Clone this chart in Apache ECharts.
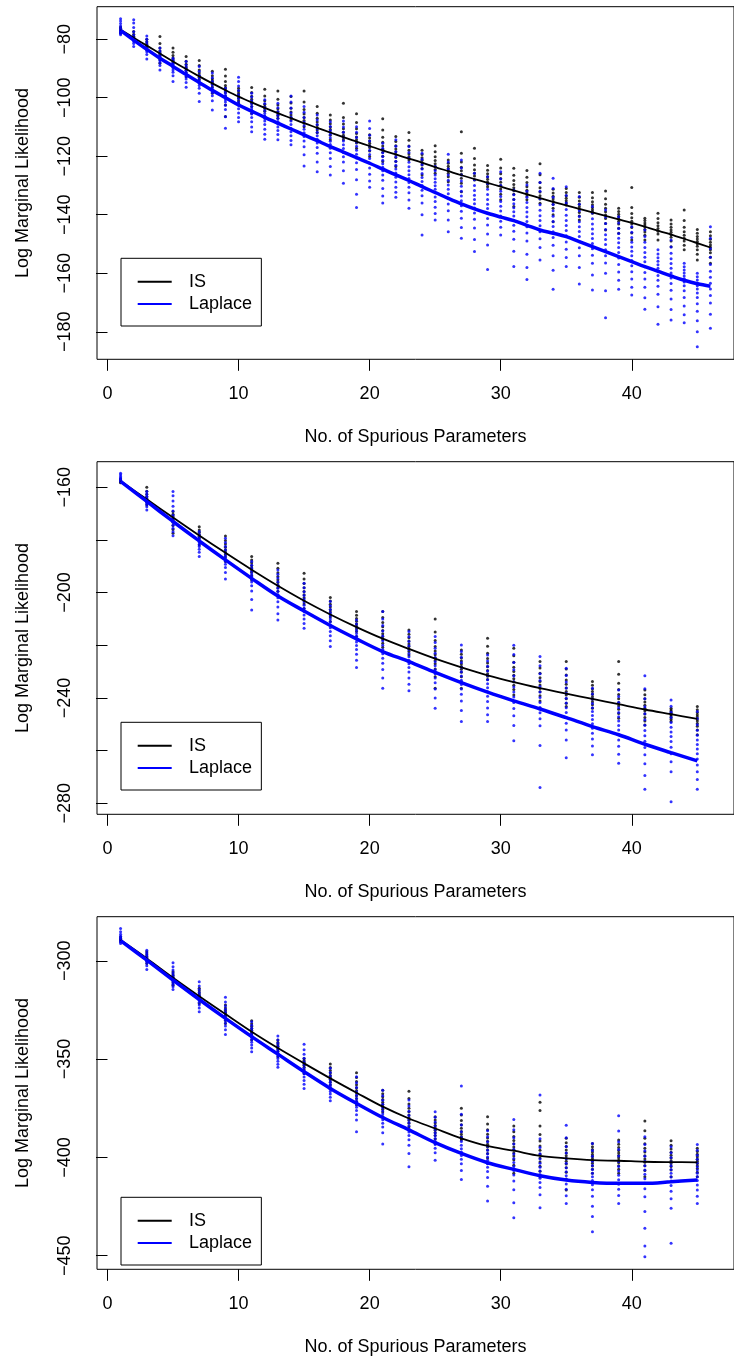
<!DOCTYPE html>
<html>
<head>
<meta charset="utf-8">
<script src="https://cdn.jsdelivr.net/npm/echarts@6/dist/echarts.min.js"></script>
<style>
  html, body { margin: 0; padding: 0; background: #fff; }
  #chart { width: 734px; height: 1361px; }
</style>
</head>
<body>
<div id="chart"></div>
<script>
// x positions
var p1X = [1,2,3,4,5,6,7,8,9,10,11,12,13,14,15,16,17,18,19,20,21,22,23,24,25,26,27,28,29,30,31,32,33,34,35,36,37,38,39,40,41,42,43,44,45,46];
var p23X = [1,3,5,7,9,11,13,15,17,19,21,23,25,27,29,31,33,35,37,39,41,43,45];

// tick labels
var xTicks = [0,10,20,30,40];
var p1Ticks = [-180,-160,-140,-120,-100,-80];
var p2Ticks = [-280,-260,-240,-220,-200,-180,-160];
var p2Labels = [-280,-240,-200,-160];
var p3Ticks = [-450,-400,-350,-300];

// panel 1 : smoothed curves
var p1ISLine = [-76.8,-79.5,-82.2,-84.9,-87.6,-90.2,-92.7,-95.1,-97.4,-99.6,-101.6,-103.5,-105.3,-107.0,-108.7,-110.3,-111.9,-113.5,-115.0,-116.5,-118.0,-119.4,-120.8,-122.2,-123.7,-125.1,-126.5,-127.8,-129.1,-130.4,-131.7,-133.0,-134.3,-135.6,-136.8,-138.0,-139.2,-140.4,-141.6,-142.8,-144.1,-145.4,-146.8,-148.2,-149.7,-151.2];
var p1LapLine = [-77.0,-80.3,-83.5,-86.5,-89.3,-92.1,-94.8,-97.5,-100.0,-102.5,-104.6,-106.7,-108.7,-110.7,-112.7,-114.7,-116.7,-118.6,-120.5,-122.4,-124.4,-126.4,-128.3,-130.4,-132.4,-134.4,-136.3,-138.0,-139.5,-140.8,-142.0,-143.6,-145.2,-146.3,-147.5,-149.2,-150.9,-152.6,-154.3,-156.0,-157.7,-159.3,-160.9,-162.4,-163.6,-164.4];

// panel 1 : replicate estimates per x
var p1ISPts = [
  [-75.8,-76.3,-76.8,-77.2,-77.6,-78.0],
  [-77.4,-78.3,-79.0,-79.4,-79.8,-80.2],
  [-80.0,-80.9,-81.6,-82.1,-82.6,-83.0,-83.6],
  [-79.1,-81.5,-83.0,-84.0,-84.6,-85.2,-86.0,-87.0,-88.2],
  [-83.0,-84.5,-85.6,-86.4,-87.0,-87.6,-88.2,-89.3],
  [-85.9,-87.5,-88.6,-89.4,-90.0,-90.6,-91.5,-92.8],
  [-87.3,-89.0,-90.5,-91.6,-92.4,-93.0,-93.8,-95.0],
  [-91.0,-92.5,-93.5,-94.2,-94.8,-95.4,-96.3,-98.5],
  [-90.3,-92.6,-94.5,-95.8,-96.6,-97.4,-98.2,-99.5,-102.5,-106.4],
  [-96.8,-97.6,-98.4,-99.0,-99.6,-100.2,-101.0,-101.9],
  [-96.5,-98.2,-99.5,-100.5,-101.3,-102.0,-103.0,-105.3],
  [-97.1,-99.4,-101.0,-102.2,-103.0,-103.7,-104.6,-106.4],
  [-97.7,-100.5,-102.5,-103.8,-104.8,-105.5,-106.2,-107.0],
  [-99.6,-101.8,-103.6,-104.9,-105.9,-106.8,-107.6],
  [-97.7,-101.5,-104.0,-105.6,-106.8,-107.8,-108.7,-109.9],
  [-103.0,-105.3,-107.0,-108.3,-109.3,-110.2,-111.0,-112.0],
  [-105.9,-107.6,-108.9,-110.0,-110.9,-111.8,-112.8,-114.4],
  [-101.9,-106.8,-109.0,-110.6,-111.8,-112.8,-113.6,-114.4],
  [-105.5,-108.5,-110.6,-112.2,-113.4,-114.4,-115.5,-117.3],
  [-112.7,-113.8,-114.8,-115.6,-116.3,-117.0,-118.2,-120.1],
  [-107.2,-111.0,-113.5,-115.2,-116.5,-117.6,-118.6,-120.0,-121.8],
  [-113.3,-115.0,-116.4,-117.5,-118.5,-119.4,-120.4,-121.8,-123.5],
  [-111.9,-114.5,-116.5,-118.0,-119.2,-120.2,-121.3],
  [-118.0,-119.4,-120.5,-121.4,-122.2,-123.0,-124.2,-126.4],
  [-116.4,-118.5,-120.2,-121.5,-122.6,-123.5,-124.5,-125.8],
  [-121.3,-122.4,-123.4,-124.2,-125.0,-125.8,-127.0,-128.7],
  [-111.6,-119.0,-122.0,-123.8,-125.0,-126.2,-127.5,-129.2,-132.1],
  [-117.3,-120.8,-123.0,-124.6,-125.8,-126.8,-128.1],
  [-123.2,-124.8,-126.0,-127.0,-127.9,-128.8,-129.6,-130.4],
  [-121.0,-124.0,-126.0,-127.6,-128.9,-130.0,-131.2,-133.0,-134.9],
  [-124.1,-126.5,-128.3,-129.7,-130.8,-131.8,-133.0,-134.8,-137.2],
  [-124.9,-127.2,-129.0,-130.4,-131.6,-132.6,-133.6,-134.9],
  [-122.6,-126.3,-129.0,-130.8,-132.2,-133.5,-134.6,-136.1],
  [-131.3,-132.6,-133.7,-134.6,-135.5,-136.4,-137.8,-140.0,-142.4],
  [-131.0,-132.4,-133.5,-134.4,-135.2,-136.0,-136.7],
  [-132.4,-134.0,-135.3,-136.4,-137.3,-138.1,-139.2,-140.4,-141.8],
  [-132.4,-134.2,-135.6,-136.6,-137.5,-138.3,-139.0,-139.5],
  [-131.9,-134.5,-136.4,-137.8,-139.0,-140.1,-141.3,-143.0,-145.2],
  [-137.8,-138.9,-139.8,-140.6,-141.4,-142.2,-143.2,-144.6,-146.3],
  [-130.7,-137.5,-139.6,-141.0,-142.2,-143.2,-144.4,-146.2,-148.6],
  [-141.2,-142.0,-142.8,-143.5,-144.2,-145.0,-145.9,-147.0,-148.6],
  [-139.5,-141.3,-142.7,-143.8,-144.7,-145.6,-146.6,-148.6],
  [-141.8,-143.2,-144.3,-145.2,-146.0,-146.8,-147.7,-149.0,-150.9],
  [-138.4,-142.0,-144.3,-145.8,-147.0,-148.0,-149.0,-150.4,-152.0],
  [-145.0,-146.3,-147.4,-148.3,-149.1,-149.9,-150.8,-152.0,-153.5,-155.5],
  [-145.8,-147.2,-148.4,-149.4,-150.3,-151.1,-152.0,-153.0,-154.5,-156.6]
];
var p1LapPts = [
  [-73.0,-73.8,-74.6,-75.5,-76.2,-76.8,-77.2,-77.6,-78.0,-78.5],
  [-73.4,-74.5,-76.0,-77.5,-78.6,-79.5,-80.2,-80.8,-81.5,-82.5],
  [-78.9,-80.0,-81.0,-81.8,-82.5,-83.1,-83.7,-84.3,-85.2,-86.8],
  [-83.0,-84.0,-84.8,-85.5,-86.1,-86.7,-87.3,-88.0,-89.0,-90.5],
  [-86.5,-87.2,-88.0,-88.6,-89.2,-89.8,-90.5,-91.3,-92.5,-94.5],
  [-87.6,-88.8,-89.8,-90.6,-91.4,-92.1,-92.8,-93.6,-94.8,-96.4],
  [-89.3,-91.0,-92.3,-93.3,-94.2,-95.0,-95.8,-96.8,-98.5,-101.3],
  [-91.6,-93.2,-94.5,-95.6,-96.6,-97.4,-98.2,-99.3,-101.0,-104.2],
  [-96.8,-97.8,-98.6,-99.3,-100.0,-100.7,-101.5,-102.6,-104.0,-106.5,-110.4],
  [-93.0,-94.5,-96.0,-97.5,-99.0,-100.3,-101.5,-102.6,-103.8,-105.2,-106.8,-108.2],
  [-98.5,-99.8,-101.0,-102.0,-103.0,-103.9,-104.7,-105.6,-106.8,-108.2,-110.0,-111.6],
  [-100.7,-102.0,-103.3,-104.4,-105.4,-106.3,-107.1,-108.0,-109.2,-110.8,-112.5,-114.2],
  [-101.9,-103.4,-104.8,-106.0,-107.1,-108.1,-109.0,-110.0,-111.2,-112.6,-114.4],
  [-99.4,-101.5,-103.5,-105.2,-106.7,-108.0,-109.2,-110.4,-111.6,-113.0,-114.6,-116.1],
  [-103.0,-105.0,-106.8,-108.3,-109.6,-110.8,-112.0,-113.3,-114.8,-116.8,-119.5,-123.3],
  [-105.9,-107.6,-109.2,-110.6,-111.8,-113.0,-114.2,-115.5,-117.0,-119.0,-122.0,-125.3],
  [-108.2,-109.8,-111.2,-112.5,-113.7,-114.9,-116.0,-117.3,-118.8,-120.8,-123.5,-126.4],
  [-108.0,-110.0,-111.8,-113.4,-114.8,-116.1,-117.4,-118.7,-120.2,-122.0,-125.0,-129.2],
  [-109.9,-111.8,-113.6,-115.2,-116.6,-118.0,-119.3,-120.6,-122.2,-124.5,-128.0,-133.0,-137.5],
  [-108.0,-110.5,-112.8,-114.8,-116.5,-118.0,-119.4,-120.8,-122.3,-124.0,-126.2,-128.5,-130.6],
  [-115.6,-117.3,-118.8,-120.1,-121.4,-122.6,-123.8,-125.0,-126.4,-128.2,-131.0,-133.6,-136.0],
  [-114.4,-116.6,-118.5,-120.2,-121.7,-123.1,-124.4,-125.7,-127.2,-128.8,-130.6,-132.3,-134.0],
  [-116.7,-118.7,-120.5,-122.1,-123.6,-125.0,-126.3,-127.6,-129.0,-130.6,-132.5,-135.0,-137.8],
  [-119.0,-121.0,-122.8,-124.4,-125.9,-127.3,-128.6,-130.0,-131.6,-133.5,-136.0,-140.0,-146.9],
  [-123.5,-125.0,-126.4,-127.7,-128.9,-130.1,-131.3,-132.5,-133.9,-135.5,-137.4,-139.6,-141.8],
  [-119.3,-122.0,-124.4,-126.4,-128.2,-129.8,-131.3,-132.8,-134.4,-136.3,-138.6,-141.8,-145.8],
  [-121.3,-124.0,-126.4,-128.5,-130.3,-132.0,-133.6,-135.2,-136.9,-138.8,-141.2,-144.4,-148.0],
  [-125.8,-128.0,-130.0,-131.7,-133.3,-134.8,-136.2,-137.7,-139.4,-141.5,-144.5,-148.5,-152.6],
  [-127.0,-129.3,-131.3,-133.1,-134.8,-136.4,-137.9,-139.5,-141.3,-143.5,-146.6,-150.3,-158.7],
  [-125.3,-127.8,-130.0,-132.0,-133.8,-135.5,-137.1,-138.7,-140.4,-142.2,-144.3,-146.9],
  [-131.5,-133.2,-134.8,-136.2,-137.6,-139.0,-140.4,-141.9,-143.6,-145.6,-148.4,-152.5,-157.7],
  [-129.8,-132.0,-134.0,-135.8,-137.5,-139.1,-140.7,-142.3,-144.1,-146.2,-149.0,-153.5,-158.0,-162.1],
  [-125.8,-129.0,-132.0,-134.5,-136.6,-138.5,-140.3,-142.0,-143.8,-145.8,-148.2,-151.2,-155.5],
  [-127.5,-131.0,-134.0,-136.5,-138.6,-140.5,-142.3,-144.0,-145.8,-147.8,-150.4,-154.0,-159.0,-165.5],
  [-130.4,-133.4,-136.0,-138.2,-140.2,-142.0,-143.7,-145.4,-147.2,-149.3,-151.8,-154.6,-157.7],
  [-133.8,-136.4,-138.6,-140.6,-142.4,-144.1,-145.7,-147.4,-149.2,-151.3,-154.0,-158.0,-163.7],
  [-137.2,-139.4,-141.4,-143.2,-144.9,-146.5,-148.1,-149.8,-151.6,-153.8,-156.6,-160.6,-165.7],
  [-138.4,-140.8,-143.0,-145.0,-146.8,-148.5,-150.2,-152.0,-154.0,-156.5,-160.0,-166.0,-175.2],
  [-140.7,-142.8,-144.7,-146.4,-148.0,-149.6,-151.2,-152.9,-154.8,-157.0,-159.6,-162.4,-165.5],
  [-144.1,-146.0,-147.8,-149.4,-151.0,-152.5,-154.0,-155.6,-157.4,-159.5,-162.0,-164.8,-167.4],
  [-145.2,-147.4,-149.4,-151.2,-152.9,-154.5,-156.1,-157.8,-159.7,-162.0,-164.8,-168.4,-172.3],
  [-152.0,-153.4,-154.7,-155.9,-157.1,-158.3,-159.5,-160.8,-162.4,-164.4,-167.2,-171.4,-177.4],
  [-148.6,-151.0,-153.2,-155.0,-156.7,-158.3,-159.9,-161.6,-163.5,-165.8,-168.8,-172.4,-176.0],
  [-156.6,-157.8,-158.9,-159.9,-160.9,-161.9,-163.0,-164.3,-166.0,-168.3,-171.2,-174.2,-176.9],
  [-160.0,-161.2,-162.3,-163.3,-164.3,-165.4,-166.7,-168.3,-170.4,-173.0,-176.2,-180.0,-185.1],
  [-144.1,-148.0,-151.5,-154.5,-157.0,-159.3,-161.4,-163.4,-165.4,-167.6,-170.2,-174.0,-178.8]
];

// panel 2
var p2ISLine = [-157.6,-164.6,-171.5,-178.3,-184.9,-191.3,-197.4,-203.1,-208.3,-213.1,-217.5,-221.4,-225.1,-228.4,-231.4,-234.0,-236.3,-238.4,-240.4,-242.4,-244.4,-246.2,-248.0];
var p2LapLine = [-157.8,-165.4,-173.0,-180.4,-187.6,-194.6,-201.3,-207.0,-212.5,-217.6,-222.4,-226.2,-230.3,-234.2,-237.8,-241.1,-244.2,-247.5,-250.9,-254.0,-257.6,-260.8,-263.9];
var p2ISPts = [
  [-156.8,-157.2,-157.6,-158.0,-158.3],
  [-160.0,-161.5,-162.7,-163.6,-164.4,-165.1,-165.8,-166.7],
  [-169.2,-170.3,-171.1,-171.8,-172.5,-173.3,-174.5,-176.0,-177.5],
  [-175.0,-176.2,-177.1,-177.9,-178.6,-179.3,-180.2,-181.9],
  [-178.5,-180.2,-181.6,-182.8,-183.8,-184.7,-185.5,-186.5,-188.2],
  [-186.3,-187.6,-188.7,-189.7,-190.6,-191.4,-192.3,-193.5,-195.2],
  [-188.9,-190.8,-192.5,-193.9,-195.1,-196.2,-197.2,-198.2,-199.5,-200.9],
  [-192.7,-194.8,-196.6,-198.2,-199.6,-200.8,-202.0,-203.1,-204.3,-206.0],
  [-201.9,-203.2,-204.4,-205.5,-206.5,-207.4,-208.3,-209.3,-211.0],
  [-207.2,-208.6,-209.8,-210.9,-211.9,-212.8,-213.7,-214.8,-216.7],
  [-207.2,-209.5,-211.4,-213.0,-214.4,-215.6,-216.7,-217.8,-219.2,-220.8,-222.4],
  [-214.2,-215.8,-217.2,-218.4,-219.5,-220.5,-221.4,-222.4,-223.7],
  [-210.0,-215.0,-218.2,-220.5,-222.2,-223.6,-224.8,-225.8,-227.0,-229.0,-232.0,-236.3],
  [-221.8,-223.4,-224.8,-226.0,-227.1,-228.1,-229.1,-230.3,-232.0,-234.0,-236.3],
  [-217.3,-220.4,-223.0,-225.0,-226.7,-228.2,-229.6,-230.8,-231.8,-233.0],
  [-221.1,-224.0,-226.5,-228.4,-230.0,-231.4,-232.7,-233.9,-235.2,-236.8,-238.9],
  [-226.2,-228.6,-230.6,-232.3,-233.8,-235.1,-236.4,-237.7,-239.2,-241.2,-243.9],
  [-226.2,-229.0,-231.3,-233.2,-234.8,-236.2,-237.6,-238.9,-240.3,-242.0,-243.3],
  [-233.8,-235.2,-236.5,-237.6,-238.6,-239.6,-240.5,-241.5,-242.6,-243.9],
  [-226.2,-231.0,-234.4,-236.8,-238.7,-240.3,-241.7,-243.0,-244.3,-245.9,-247.7],
  [-237.0,-238.8,-240.3,-241.6,-242.8,-243.9,-245.0,-246.1,-247.4,-248.8,-250.3],
  [-243.9,-244.6,-245.2,-245.8,-246.3,-246.9,-247.5,-248.2,-249.0],
  [-243.3,-244.5,-245.5,-246.4,-247.2,-248.0,-248.8,-249.7,-250.8,-252.2,-254.0]
];
var p2LapPts = [
  [-154.7,-155.3,-155.9,-156.4,-156.9,-157.3,-157.7],
  [-161.6,-162.6,-163.4,-164.1,-164.7,-165.3,-165.9,-166.5,-167.4,-168.6],
  [-161.6,-163.2,-165.2,-167.2,-169.0,-170.6,-172.0,-173.2,-174.4,-175.6,-176.9,-178.4],
  [-176.8,-177.9,-178.8,-179.6,-180.3,-181.0,-181.7,-182.5,-183.5,-184.7,-186.3],
  [-179.4,-181.0,-182.4,-183.7,-184.9,-186.0,-187.1,-188.1,-189.2,-190.5,-192.4,-194.8],
  [-188.2,-189.6,-190.8,-191.9,-192.9,-193.9,-194.9,-196.0,-197.4,-199.4,-202.6,-206.6],
  [-191.4,-193.0,-194.5,-195.9,-197.2,-198.4,-199.6,-200.8,-202.0,-203.5,-205.5,-208.0,-210.4],
  [-196.5,-198.2,-199.7,-201.1,-202.4,-203.6,-204.8,-206.0,-207.2,-208.5,-210.0,-211.7,-213.5],
  [-203.4,-205.0,-206.4,-207.7,-208.9,-210.0,-211.1,-212.2,-213.4,-214.8,-216.4,-218.3,-220.5],
  [-210.4,-211.9,-213.2,-214.4,-215.5,-216.6,-217.7,-218.8,-220.1,-221.6,-223.4,-225.7,-228.5],
  [-207.2,-210.0,-212.5,-214.6,-216.5,-218.3,-220.0,-221.6,-223.2,-224.9,-226.8,-229.2,-232.4,-236.3],
  [-214.8,-216.8,-218.6,-220.2,-221.7,-223.1,-224.4,-225.7,-227.0,-228.5,-230.2,-232.4,-234.8,-237.3],
  [-216.7,-219.0,-221.1,-223.0,-224.7,-226.3,-227.8,-229.3,-230.8,-232.4,-234.2,-236.6,-240.0,-243.9],
  [-219.9,-222.4,-224.6,-226.6,-228.4,-230.1,-231.7,-233.3,-234.9,-236.6,-238.6,-241.2,-244.8,-249.0],
  [-223.7,-226.0,-228.0,-229.8,-231.5,-233.1,-234.6,-236.1,-237.7,-239.4,-241.4,-243.8,-246.4,-249.0],
  [-220.0,-223.5,-226.6,-229.3,-231.7,-233.9,-235.9,-237.8,-239.7,-241.7,-244.0,-246.8,-250.5,-256.3],
  [-224.3,-227.8,-230.8,-233.4,-235.7,-237.8,-239.8,-241.7,-243.6,-245.6,-247.9,-250.6,-258.1,-274.0],
  [-228.7,-231.5,-234.0,-236.2,-238.2,-240.1,-241.9,-243.7,-245.5,-247.4,-249.6,-252.2,-256.0,-262.7],
  [-236.3,-238.5,-240.4,-242.1,-243.7,-245.2,-246.7,-248.2,-249.8,-251.5,-253.4,-255.6,-258.3,-261.6],
  [-237.0,-239.5,-241.7,-243.7,-245.5,-247.2,-248.8,-250.5,-252.2,-254.0,-256.0,-258.4,-261.4,-264.8],
  [-231.6,-236.5,-240.3,-243.4,-246.0,-248.3,-250.4,-252.4,-254.4,-256.5,-258.8,-261.6,-265.0,-269.5,-274.7],
  [-240.8,-243.2,-245.4,-247.4,-249.3,-251.1,-252.9,-254.7,-256.6,-258.7,-261.2,-264.2,-268.0,-279.4],
  [-245.2,-247.8,-250.2,-252.3,-254.2,-256.0,-257.7,-259.4,-261.2,-263.2,-265.5,-268.0,-271.0,-274.7]
];

// panel 3
var p3ISLine = [-289.5,-298.8,-308.6,-318.0,-327.1,-336.1,-344.4,-352.2,-359.8,-367.1,-374.2,-380.2,-385.3,-390.3,-394.2,-396.6,-399.2,-400.5,-401.4,-401.7,-402.2,-402.4,-402.5];
var p3LapLine = [-289.8,-299.7,-309.8,-319.7,-329.3,-338.6,-347.5,-356.4,-364.9,-372.5,-379.7,-386.0,-392.5,-398.0,-402.7,-406.1,-409.3,-411.5,-412.7,-413.2,-413.2,-412.4,-411.5];
var p3ISPts = [
  [-287.8,-288.5,-289.1,-289.6,-290.3],
  [-295.4,-296.6,-297.6,-298.4,-299.2,-300.1,-301.4],
  [-305.6,-306.7,-307.6,-308.4,-309.2,-310.2,-311.2,-312.4],
  [-314.0,-315.3,-316.4,-317.3,-318.1,-318.9,-319.9,-321.7],
  [-322.5,-324.0,-325.2,-326.2,-327.1,-328.0,-329.0,-330.4,-331.9],
  [-330.5,-332.0,-333.3,-334.4,-335.4,-336.3,-337.3,-338.6,-340.3],
  [-340.3,-341.6,-342.7,-343.6,-344.4,-345.3,-346.3,-347.5,-348.8],
  [-349.7,-350.7,-351.6,-352.4,-353.2,-354.1,-355.4,-357.3],
  [-352.5,-354.3,-355.8,-357.1,-358.3,-359.4,-360.5,-361.8,-363.2,-364.9],
  [-357.0,-359.4,-361.4,-363.1,-364.6,-366.0,-367.3,-368.6,-370.0,-371.6,-373.4],
  [-365.8,-367.6,-369.2,-370.6,-371.9,-373.1,-374.3,-375.5,-376.9,-379.3],
  [-366.3,-370.0,-372.8,-375.0,-376.8,-378.4,-379.8,-381.1,-382.6,-384.4],
  [-379.3,-381.0,-382.5,-383.8,-385.0,-386.2,-387.4,-388.8,-390.6,-392.9],
  [-375.0,-378.5,-381.2,-383.4,-385.2,-386.8,-388.2,-389.5,-390.5,-391.2],
  [-379.3,-383.0,-385.9,-388.2,-390.1,-391.8,-393.3,-394.7,-396.2,-398.0,-400.3,-403.0],
  [-384.0,-387.0,-389.4,-391.4,-393.1,-394.7,-396.2,-397.7,-399.3,-401.2,-404.0,-408.1],
  [-372.0,-376.2,-384.0,-388.4,-391.6,-394.2,-396.4,-398.4,-400.3,-402.3,-404.5,-407.0,-409.8],
  [-390.3,-392.6,-394.5,-396.2,-397.7,-399.1,-400.5,-401.9,-403.4,-405.2,-407.6,-411.0,-416.6],
  [-392.9,-394.6,-396.0,-397.3,-398.5,-399.6,-400.7,-401.8,-403.0,-404.4,-406.0,-408.1],
  [-391.2,-393.3,-395.0,-396.5,-397.8,-399.0,-400.2,-401.4,-402.7,-404.2,-406.0,-408.1],
  [-381.5,-386.5,-390.2,-393.0,-395.3,-397.3,-399.1,-400.8,-402.5,-404.3,-406.6,-409.8],
  [-391.5,-393.8,-395.7,-397.4,-398.9,-400.3,-401.7,-403.1,-404.6,-406.4,-409.8],
  [-395.4,-397.0,-398.4,-399.7,-400.9,-402.0,-403.1,-404.3,-405.7,-407.5,-409.8]
];
var p3LapPts = [
  [-283.6,-285.2,-286.5,-287.5,-288.3,-289.0,-289.7,-290.4,-291.2],
  [-294.6,-295.9,-297.0,-297.9,-298.7,-299.5,-300.3,-301.2,-302.5,-304.4],
  [-301.0,-303.0,-304.7,-306.1,-307.4,-308.6,-309.7,-310.8,-312.0,-313.2,-314.6],
  [-310.7,-312.8,-314.6,-316.1,-317.5,-318.7,-319.9,-321.1,-322.5,-324.0,-325.9],
  [-318.6,-321.0,-323.0,-324.7,-326.2,-327.6,-328.9,-330.2,-331.6,-333.2,-335.1,-337.5],
  [-331.0,-332.8,-334.3,-335.6,-336.8,-337.9,-339.0,-340.1,-341.4,-342.8,-344.4,-346.3],
  [-338.3,-340.3,-342.0,-343.5,-344.8,-346.0,-347.2,-348.4,-349.7,-351.1,-352.6,-354.2],
  [-342.4,-345.2,-347.6,-349.6,-351.4,-353.0,-354.5,-356.0,-357.5,-359.1,-360.9,-362.8,-364.9],
  [-354.7,-356.8,-358.6,-360.2,-361.6,-362.9,-364.1,-365.3,-366.5,-367.8,-369.4,-371.2],
  [-359.0,-362.0,-364.5,-366.6,-368.4,-370.0,-371.5,-373.0,-374.5,-376.2,-378.3,-381.0,-387.0],
  [-365.8,-368.6,-371.0,-373.0,-374.8,-376.4,-377.9,-379.4,-380.9,-382.6,-384.6,-387.4,-393.2],
  [-370.8,-373.9,-376.5,-378.7,-380.6,-382.3,-383.9,-385.5,-387.1,-388.9,-391.0,-393.8,-398.0,-404.7],
  [-376.8,-379.6,-382.0,-384.0,-385.8,-387.4,-388.9,-390.4,-391.9,-393.5,-395.3,-397.6,-401.4],
  [-363.7,-378.0,-383.5,-387.0,-389.7,-391.9,-393.8,-395.6,-397.3,-399.0,-400.9,-403.2,-406.6,-411.2],
  [-386.4,-389.5,-392.1,-394.3,-396.3,-398.1,-399.8,-401.5,-403.2,-405.0,-407.2,-410.2,-414.7,-422.2],
  [-380.7,-386.0,-390.0,-393.2,-395.9,-398.3,-400.5,-402.6,-404.6,-406.7,-409.0,-412.0,-416.5,-423.0,-430.7],
  [-368.3,-390.5,-395.0,-398.2,-400.8,-403.0,-405.0,-406.9,-408.7,-410.6,-412.7,-415.3,-419.0,-425.6],
  [-383.6,-390.0,-394.4,-397.8,-400.6,-403.0,-405.2,-407.3,-409.3,-411.3,-413.5,-416.2,-419.5,-423.4],
  [-392.9,-396.5,-399.4,-401.9,-404.1,-406.1,-408.0,-409.9,-411.8,-413.9,-416.4,-419.8,-424.8,-430.0,-437.8],
  [-378.8,-386.6,-392.0,-396.0,-399.3,-402.1,-404.6,-406.9,-409.1,-411.3,-413.6,-416.2,-419.4,-423.4],
  [-389.5,-393.4,-396.6,-399.4,-401.9,-404.2,-406.4,-408.6,-410.8,-413.2,-416.0,-420.0,-427.5,-436.0,-445.0,-450.5],
  [-394.6,-397.6,-400.1,-402.3,-404.3,-406.2,-408.1,-410.0,-412.0,-414.3,-417.2,-421.0,-425.8,-443.7],
  [-393.4,-396.4,-398.9,-401.0,-402.9,-404.7,-406.4,-408.1,-409.9,-411.8,-414.0,-416.6,-419.8,-423.4]
];

var BLUE = '#0000ff';
var FONT = 'Liberation Sans, Arial, Helvetica, sans-serif';

function pts(xs, cols) {
    var out = [];
    for (var i = 0; i < xs.length; i++) {
        for (var j = 0; j < cols[i].length; j++) out.push([xs[i], cols[i][j]]);
    }
    return out;
}
function curve(xs, ys) {
    return xs.map(function (x, i) { return [x, ys[i]]; });
}
function minus(v) { return String(v).replace('-', '\u2212'); }

// panel boxes (pixels) and y limits
var panels = [
    {top: 6.7,   ymin: -189.4, ymax: -68.9,  ticks: p1Ticks, labels: p1Ticks, legTop: 258.3,
     xs: p1X,  isPts: p1ISPts, lapPts: p1LapPts, isLine: p1ISLine, lapLine: p1LapLine},
    {top: 461.7, ymin: -284.2, ymax: -150.3, ticks: p2Ticks, labels: p2Labels, legTop: 722.3,
     xs: p23X, isPts: p2ISPts, lapPts: p2LapPts, isLine: p2ISLine, lapLine: p2LapLine},
    {top: 916.7, ymin: -456.9, ymax: -277.6, ticks: p3Ticks, labels: p3Ticks, legTop: 1197.3,
     xs: p23X, isPts: p3ISPts, lapPts: p3LapPts, isLine: p3ISLine, lapLine: p3LapLine}
];

var grids = [], xAxes = [], yAxes = [], series = [], legends = [];
panels.forEach(function (p, i) {
    grids.push({left: 97, top: p.top, width: 643, height: 352.6,
        show: true, borderColor: '#000', borderWidth: 1, backgroundColor: 'transparent'});
    xAxes.push({
        type: 'value', gridIndex: i, min: -0.8, max: 47.8,
        name: 'No. of Spurious Parameters', nameLocation: 'middle', nameGap: 69,
        nameTextStyle: {fontSize: 18, color: '#000', fontFamily: FONT},
        axisLine: {show: false},
        axisTick: {show: true, length: 11.5, customValues: xTicks, lineStyle: {color: '#000', width: 1}},
        axisLabel: {customValues: xTicks, margin: 26, fontSize: 18, color: '#000', fontFamily: FONT},
        splitLine: {show: false}
    });
    yAxes.push({
        type: 'value', gridIndex: i, min: p.ymin, max: p.ymax,
        name: 'Log Marginal Likelihood', nameLocation: 'middle', nameGap: 65,
        nameTextStyle: {fontSize: 18, color: '#000', fontFamily: FONT},
        axisLine: {show: false},
        axisTick: {show: true, length: 11.5, customValues: p.ticks, lineStyle: {color: '#000', width: 1}},
        axisLabel: {customValues: p.labels, rotate: 90, margin: 23, fontSize: 18, color: '#000',
            fontFamily: FONT, formatter: minus},
        splitLine: {show: false}
    });
    series.push({
        name: 'IS pts', type: 'scatter', xAxisIndex: i, yAxisIndex: i,
        symbol: 'circle', symbolSize: 3, itemStyle: {color: '#000'},
        data: pts(p.xs, p.isPts), silent: true
    });
    series.push({
        name: 'Laplace pts', type: 'scatter', xAxisIndex: i, yAxisIndex: i,
        symbol: 'circle', symbolSize: 3, itemStyle: {color: BLUE},
        data: pts(p.xs, p.lapPts), silent: true
    });
    series.push({
        name: 'IS', type: 'line', xAxisIndex: i, yAxisIndex: i,
        symbol: 'none', smooth: 0.35,
        lineStyle: {color: '#000', width: 1.8}, itemStyle: {color: '#000'},
        data: curve(p.xs, p.isLine), z: 3
    });
    series.push({
        name: 'Laplace', type: 'line', xAxisIndex: i, yAxisIndex: i,
        symbol: 'none', smooth: 0.35,
        lineStyle: {color: BLUE, width: 3.5}, itemStyle: {color: BLUE},
        data: curve(p.xs, p.lapLine), z: 4
    });
    legends.push({
        data: ['IS', 'Laplace'], orient: 'vertical', left: 121, top: p.legTop,
        icon: 'rect', itemWidth: 34, itemHeight: 2, itemGap: 4.3,
        padding: [14.4, 9.3, 13, 16.7],
        borderColor: '#000', borderWidth: 1, borderRadius: 0,
        selectedMode: false,
        textStyle: {fontSize: 18, lineHeight: 18, color: '#000', fontFamily: FONT, padding: [0, 0, 0, 12.3]}
    });
});

var chart = echarts.init(document.getElementById('chart'));
chart.setOption({
    animation: false,
    backgroundColor: '#fff',
    grid: grids,
    xAxis: xAxes,
    yAxis: yAxes,
    legend: legends,
    series: series
});
</script>
</body>
</html>
